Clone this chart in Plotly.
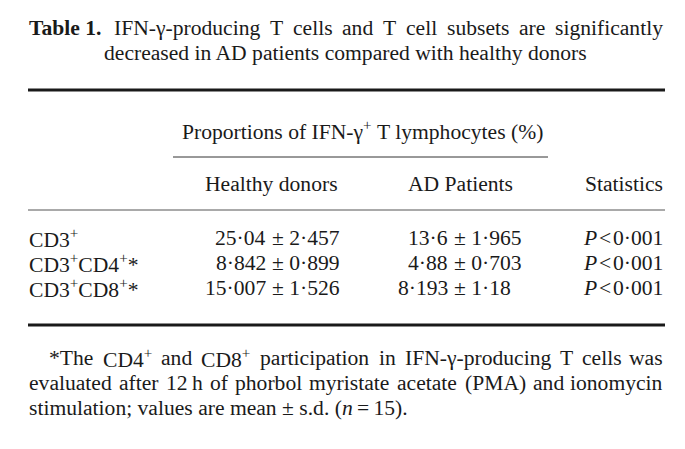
import re
import plotly.graph_objects as go

# page is 685x449 but the html body has an 8px margin: figure sits at (8, 8)
OFF = 8
W, H = 685 - OFF, 449 - OFF

# ---- data ----
categories = ["CD3<sup>+</sup>", "CD3<sup>+</sup>CD4<sup>+</sup>*", "CD3<sup>+</sup>CD8<sup>+</sup>*"]
healthy_mean = [25.04, 8.842, 15.007]
healthy_sd = [2.457, 0.899, 1.526]
ad_mean = [13.6, 4.88, 8.193]
ad_sd = [1.965, 0.703, 1.18]
p_values = ["0.001", "0.001", "0.001"]
col_headers = ["Healthy donors", "AD Patients", "Statistics"]
group_header = "Proportions of IFN-γ<sup>+</sup> T lymphocytes (%)"

FONT = "Liberation Serif"
FS = 21.6
INK = "#1a1a1a"

# Times / Liberation Serif advance widths (1/1000 em) used to justify lines
TW = {" ": 250, "(": 333, ")": 333, "*": 500, "+": 564, ",": 250, "-": 333, ".": 250, ";": 278,
      "%": 833, "γ": 380, "·": 250, "±": 564, "=": 564, "\u2009": 200,
      "A": 722, "C": 667, "D": 722, "F": 556, "I": 333, "M": 889, "N": 722, "P": 556, "T": 611,
      "a": 444, "b": 500, "c": 444, "d": 500, "e": 444, "f": 333, "g": 500, "h": 500, "i": 278,
      "l": 278, "m": 778, "n": 500, "o": 500, "p": 500, "r": 333, "s": 389, "t": 278, "u": 500,
      "v": 500, "w": 722, "y": 500}
TWB = {"T": 667, "a": 500, "b": 556, "l": 278, "e": 444, " ": 250, "1": 500, ".": 250}
WFACT = 1.015


def text_width(t):
    w = 0.0
    scale = 1.0
    bold = False
    for part in re.split(r"(<[^>]+>)", t):
        if part.startswith("<"):
            tag = part.strip("<>/").lower()
            closing = part.startswith("</")
            if tag == "sup":
                scale = 1.0 if closing else 0.7
            elif tag == "b":
                bold = not closing
            continue
        for ch in part:
            if ch.isdigit():
                v = 500
            else:
                v = (TWB if bold else TW).get(ch, 500)
            w += v * scale
    return w / 1000 * FS * WFACT


def fmt(v):
    return str(v).replace(".", "·")


anns = []


def ann(text, x, y, xanchor="left"):
    anns.append(dict(text=text, x=(x - OFF) / W, y=1 - (y - OFF) / H, xref="paper", yref="paper",
                     xanchor=xanchor, yanchor="middle", showarrow=False, borderpad=0,
                     font=dict(family=FONT, size=FS, color=INK)))


def justify(words, y, x0, x1):
    widths = [text_width(w) for w in words]
    gap = (x1 - x0 - sum(widths)) / (len(words) - 1)
    x = x0
    for w, wd in zip(words[:-1], widths[:-1]):
        ann(w, x, y)
        x += wd + gap
    ann(words[-1], x1, y, "right")


shapes = []


def hline(x0, x1, y, w, color=INK):
    shapes.append(dict(type="line", xref="paper", yref="paper",
                       x0=(x0 - OFF) / W, x1=(x1 - OFF) / W,
                       y0=1 - (y - OFF) / H, y1=1 - (y - OFF) / H,
                       line=dict(color=color, width=w)))


# ---- title ----
justify(["<b>Table 1.</b>", "IFN-γ-producing", "T", "cells", "and", "T", "cell", "subsets",
         "are", "significantly"], 28, 28, 664)
ann("decreased in AD patients compared with healthy donors", 345, 53, "center")

# ---- rules ----
hline(28, 665, 90, 3)
hline(173, 548, 157, 1, "#333")
hline(28, 665, 210, 1, "#555")
hline(28, 665, 325, 3)

# ---- headers ----
ann(group_header, 362, 131, "center")
ann(col_headers[0], 271, 184, "center")
ann(col_headers[1], 461, 184, "center")
ann(col_headers[2], 664, 184, "right")

# ---- body rows (values aligned on the ± sign) ----
row_y = [238, 263, 288]
for i, y in enumerate(row_y):
    ann(categories[i], 28, y)
    ann(fmt(healthy_mean[i]), 267, y, "right")
    ann("± " + fmt(healthy_sd[i]), 271, y)
    ann(fmt(ad_mean[i]), 449, y, "right")
    ann("± " + fmt(ad_sd[i]), 453, y)
    ann("<i>P</i>\u200a&lt;\u200a" + fmt(p_values[i]), 664, y, "right")

# ---- footnote ----
justify(["*The", "CD4<sup>+</sup>", "and", "CD8<sup>+</sup>", "participation", "in",
         "IFN-γ-producing", "T", "cells", "was"], 358, 48, 664)
justify(["evaluated", "after", "12\u2009h", "of", "phorbol", "myristate", "acetate", "(PMA)",
         "and", "ionomycin"], 383, 28, 664)
ann("stimulation; values are mean ± s.d. (<i>n</i>\u2009=\u200915).", 28, 408)

fig = go.Figure()
fig.update_layout(width=W, height=H, margin=dict(l=0, r=0, t=0, b=0),
                  paper_bgcolor="white", plot_bgcolor="white",
                  xaxis=dict(visible=False), yaxis=dict(visible=False),
                  annotations=anns, shapes=shapes, showlegend=False)
fig.write_html("out.html")
